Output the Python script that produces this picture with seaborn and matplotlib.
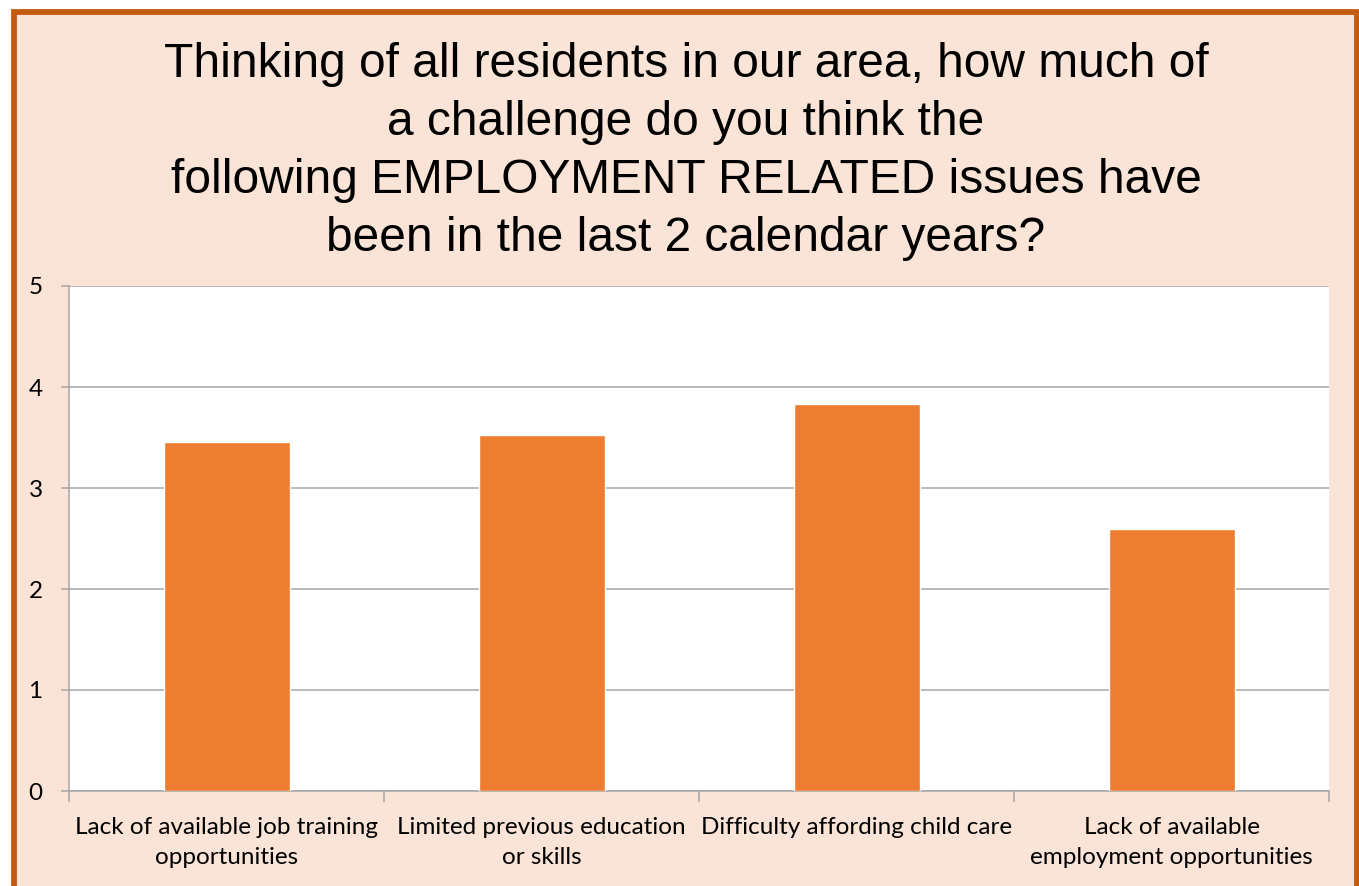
import matplotlib
matplotlib.use("Agg")
import matplotlib.pyplot as plt
import seaborn as sns
import pandas as pd
from matplotlib.patches import Rectangle

categories = [
    "Lack of available job training\nopportunities",
    "Limited previous education\nor skills",
    "Difficulty affording child care",
    "Lack of available\nemployment opportunities",
]
values = [3.46, 3.52, 3.83, 2.59]
yticks = [0, 1, 2, 3, 4, 5]
title = ("Thinking of all residents in our area, how much of\n"
         "a challenge do you think the\n"
         "following EMPLOYMENT RELATED issues have\n"
         "been in the last 2 calendar years?")

sns.set_style("white")
plt.rcParams['font.family'] = ['Lato', 'DejaVu Sans']
plt.rcParams['text.color'] = 'black'
plt.rcParams['xtick.color'] = 'black'
plt.rcParams['ytick.color'] = 'black'

W, H = 1359, 886
fig = plt.figure(figsize=(W / 100, H / 100), dpi=100, facecolor="white")

# background panel with orange border
bg = Rectangle((13.5 / W, -0.05), (1357 - 13.5) / W, 1.05 - 12 / H,
               transform=fig.transFigure, facecolor="#FAE4D7",
               edgecolor="#C55A11", linewidth=4.2, zorder=-10)
fig.patches.append(bg)

ax = fig.add_axes([69 / W, (H - 791) / H, (1329 - 69) / W, (791 - 286) / H])
ax.set_facecolor("white")

df = pd.DataFrame({"cat": categories, "val": values})
sns.barplot(data=df, x="cat", y="val", color="#ED7D31", saturation=1,
            width=0.4, ax=ax, zorder=3)

ax.set_ylim(0, 5)
ax.set_xlim(-0.5, 3.5)
ax.set_yticks(yticks)
ax.set_yticklabels([str(t) for t in yticks])
ax.yaxis.grid(True, color="#A6A6A6", linewidth=1.1, zorder=0)
ax.set_axisbelow(True)
for s in ["top", "right"]:
    ax.spines[s].set_visible(False)
for s in ["left", "bottom"]:
    ax.spines[s].set_color("#A6A6A6")
    ax.spines[s].set_linewidth(1.1)
ax.set_xlabel("")
ax.set_ylabel("")
ax.tick_params(axis="y", length=6, color="#A6A6A6", width=1.1, pad=13, labelsize=17.5,
               left=True, labelcolor="black")
ax.tick_params(axis="x", length=0, pad=19, labelsize=17.5, labelcolor="black")
ax.set_xticks(range(len(categories)))
ax.set_xticklabels(categories, linespacing=1.5)
# category boundary tick marks
ax.set_xticks([-0.5, 0.5, 1.5, 2.5, 3.5], minor=True)
ax.tick_params(axis="x", which="minor", length=8, color="#A6A6A6", width=1.1, bottom=True)

fig.text(686 / W, 1 - 42 / H, title, ha="center", va="top", fontsize=34.5,
         color="black", family=["Liberation Sans", "DejaVu Sans"], linespacing=1.37)

fig.savefig("out.png", dpi=100, facecolor=fig.get_facecolor())
